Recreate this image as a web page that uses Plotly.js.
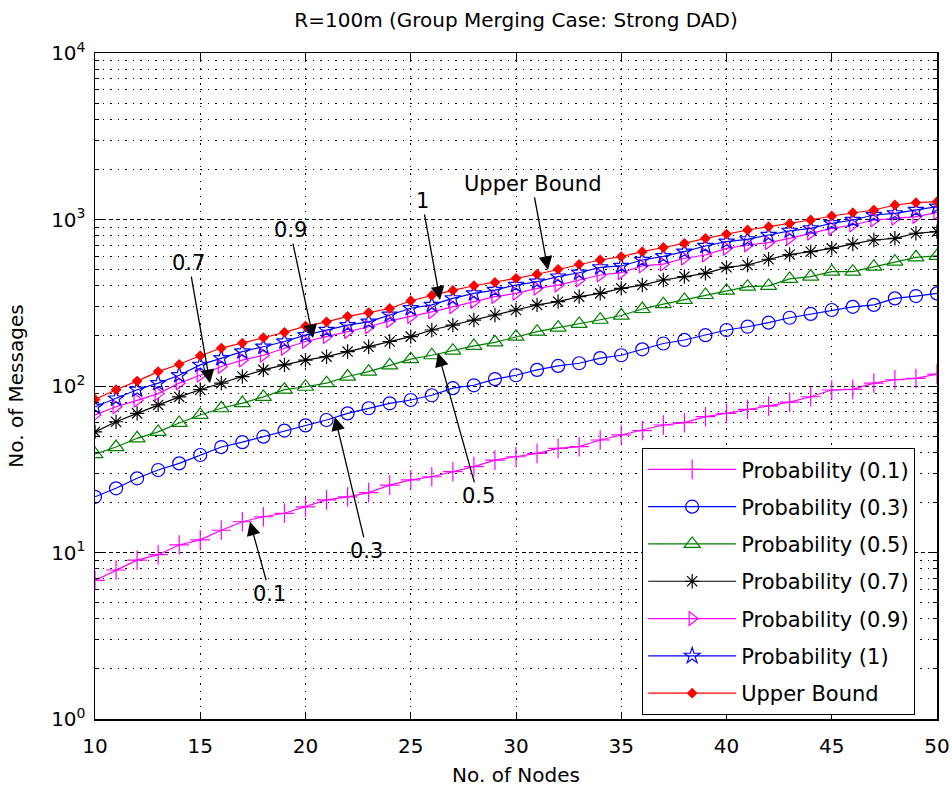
<!DOCTYPE html>
<html>
<head>
<meta charset="utf-8">
<script src="https://cdn.plot.ly/plotly-3.0.1.min.js"></script>
<style>html,body{margin:0;padding:0;background:#fff;}#chart{width:952px;height:787px;}</style>
</head>
<body>
<div id="chart"></div>
<script>
// ---- data ----
const nodes = [10,11,12,13,14,15,16,17,18,19,20,21,22,23,24,25,26,27,28,29,30,31,32,33,34,35,36,37,38,39,40,41,42,43,44,45,46,47,48,49,50];

const prob01 = [6.8,7.85,9.0,9.7,11.1,11.9,13.6,15.3,16.4,17.2,18.8,20.7,21.6,22.9,25.4,27.3,28.5,30.6,32.8,35.9,37.6,39.4,42.2,43.2,47.4,50.8,54,58.3,60.2,65.4,68.5,72.4,75.9,80,86.2,94.6,95.5,104,109,111,118];
const prob03 = [21.6,24.3,27.9,31.3,34.3,38.5,43,46,49.6,54,58,62.5,68.5,73.5,78.7,82.4,88,97,101,110,116,125,132,137,147,153,166,180,189,202,217,227,240,257,271,286,299,307,336,347,360];
const prob05 = [39,43,48.5,53,60,67,73.5,79,86,95,99,104,114,122,133,145,153,163,174,183,198,212,224,236,250,265,290,310,329,352,374,395,399,440,454,486,486,521,558,593,604];
const prob07 = [53,61,68.5,77,86,95,104,114,125,134,143,150,161,172,185,198,217,232,249,267,286,307,321,344,360,386,404,433,454,475,516,533,577,616,641,671,713,753,771,827,845];
const prob09 = [67,75,82,90,104,116,131,143,153,168,185,198,212,227,246,261,279,299,321,344,360,386,404,433,464,479,526,539,585,612,671,703,726,771,827,885,927,993,1016,1040,1099];
const prob1  = [75,84,95,104,116,134,147,161,172,185,202,217,232,243,268,293,307,336,360,377,404,423,454,479,516,526,571,601,641,693,736,760,807,855,885,949,993,1064,1089,1140,1194];
const upperBound = [83,95,107,122,135,152,169,181,195,210,229,243,262,276,292,325,350,375,400,419,443,469,502,538,571,598,641,679,719,771,818,865,906,945,993,1050,1099,1140,1222,1262,1279];

const seriesNames = ['Probability (0.1)','Probability (0.3)','Probability (0.5)','Probability (0.7)','Probability (0.9)','Probability (1)','Upper Bound'];

const yTickVals = [1,10,100,1000,10000];
const yTickText = ['10<sup>0</sup>','10<sup>1</sup>','10<sup>2</sup>','10<sup>3</sup>','10<sup>4</sup>'];

// annotation labels and the points they point at (x, value)
const annLabels = ['0.1','0.3','0.5','0.7','0.9','1','Upper Bound'];
const annX      = [17.36, 21.4, 26.3, 15.46, 20.36, 26.39, 31.52];
const annVal    = [15.3, 65.2, 158, 104, 194, 329, 498];

// ---- styles ----
const colors  = ['#FF00FF','#0000FF','#008000','#000000','#FF00FF','#0000FF','#FF0000'];
const symbols = ['cross-thin-open','circle-open','triangle-up-open','asterisk-open','triangle-right-open','star-open','diamond'];
const msizes  = [14,13,14,12,12,12,7];
const annAx   = [20, 32, 40, -21, -23, -18, -16];
const annAy   = [72, 134, 143, -120, -108, -99, -86];

const allSeries = [prob01, prob03, prob05, prob07, prob09, prob1, upperBound];

const traces = allSeries.map((vals, i) => ({
  x: nodes,
  y: vals,
  type: 'scatter',
  mode: 'lines+markers',
  name: seriesNames[i],
  legendgroup: 'g' + i,
  line: {color: colors[i], width: 1.2},
  marker: {symbol: symbols[i], size: msizes[i], color: colors[i], line: {color: colors[i], width: 1.2}}
}));

const minorVals = [];
for (let d = 0; d < 4; d++) { for (let k = 2; k <= 9; k++) minorVals.push(k * Math.pow(10, d)); }

const annotations = annLabels.map((t, i) => ({
  x: annX[i], y: Math.log10(annVal[i]), xref: 'x', yref: 'y',
  text: t, showarrow: true, ax: annAx[i], ay: annAy[i],
  arrowhead: 2, arrowsize: 2.1, arrowwidth: 1.3, arrowcolor: '#000',
  font: {family: 'DejaVu Sans', size: 21, color: '#000'}
}));

const layout = {
  width: 952, height: 787,
  margin: {l: 95, r: 15, t: 53, b: 68},
  paper_bgcolor: '#fff', plot_bgcolor: '#fff',
  font: {family: 'DejaVu Sans', size: 20, color: '#000'},
  showlegend: true,
  title: {text: 'R=100m (Group Merging Case: Strong DAD)', x: 0.5, xref: 'paper', xanchor: 'center',
          y: 1 - 20/787, yref: 'container', yanchor: 'middle', font: {family: 'DejaVu Sans', size: 20, color: '#000'}},
  xaxis: {
    range: [10, 50], dtick: 5, tick0: 10,
    ticks: 'inside', ticklen: 7, tickcolor: '#000', tickwidth: 1,
    showline: true, linecolor: '#000', linewidth: 1.5, mirror: 'ticks',
    showgrid: true, gridcolor: '#000', gridwidth: 1, griddash: '1.5px,6px',
    zeroline: false, ticklabelstandoff: 8,
    tickfont: {family: 'DejaVu Sans', size: 20},
    title: {text: 'No. of Nodes', standoff: 12, font: {family: 'DejaVu Sans', size: 20}}
  },
  yaxis: {
    type: 'log', range: [0, 4],
    tickmode: 'array', tickvals: yTickVals, ticktext: yTickText,
    ticks: 'inside', ticklen: 7, tickcolor: '#000', tickwidth: 1,
    showline: true, linecolor: '#000', linewidth: 1.5, mirror: 'ticks',
    showgrid: true, gridcolor: '#000', gridwidth: 1, griddash: '4px,3px',
    zeroline: false, ticklabelstandoff: 4,
    minor: {tickmode: 'array', tickvals: minorVals, ticks: 'inside', ticklen: 4, tickcolor: '#000',
            showgrid: true, gridcolor: '#000', gridwidth: 1, griddash: '1.5px,6px'},
    tickfont: {family: 'DejaVu Sans', size: 20},
    title: {text: 'No. of Messages', standoff: 22, font: {family: 'DejaVu Sans', size: 20}}
  },
  legend: {
    x: 0.6496, y: 0.4069, xanchor: 'left', yanchor: 'top',
    bgcolor: '#fff', bordercolor: '#000', borderwidth: 1.2,
    font: {family: 'DejaVu Sans', size: 21, color: '#000'},
    itemwidth: 88, tracegroupgap: 7, traceorder: 'grouped'
  },
  annotations: annotations
};

Plotly.newPlot('chart', traces, layout, {staticPlot: true, displayModeBar: false});
</script>
</body>
</html>
